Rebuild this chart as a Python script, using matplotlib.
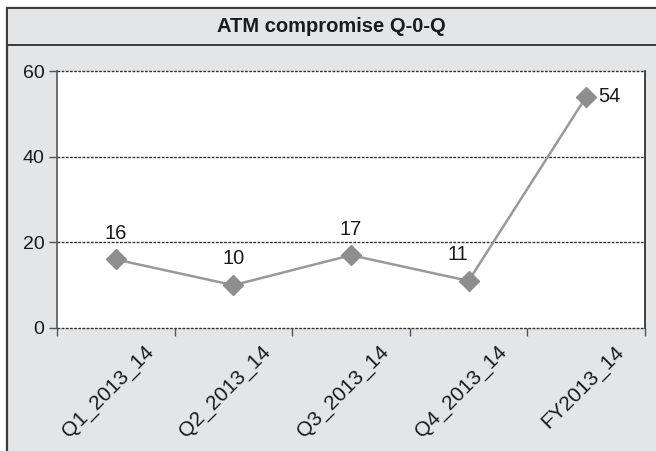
import matplotlib
matplotlib.use("Agg")
import matplotlib.pyplot as plt
from matplotlib.patches import Rectangle
from matplotlib.transforms import ScaledTranslation

plt.rcParams['font.family'] = ['Liberation Sans', 'DejaVu Sans']

categories = ["Q1_2013_14", "Q2_2013_14", "Q3_2013_14", "Q4_2013_14", "FY2013_14"]
values = [16, 10, 17, 11, 54]
y_ticks = [0, 20, 40, 60]
title = "ATM compromise Q-0-Q"

W, H = 656, 451
fig = plt.figure(figsize=(W / 100, H / 100), dpi=100)
bg = "#e4e5e7"
fig.patch.set_facecolor("white")

# outer chart frame and title band
fig.patches.append(Rectangle((7 / W, -0.01), 1, 1.01 - 8 / H, transform=fig.transFigure,
                             facecolor=bg, edgecolor="#3a3a3a", linewidth=1.6, zorder=-2))
fig.patches.append(Rectangle((7 / W, 1 - 45 / H), 1, 37 / H, transform=fig.transFigure,
                             facecolor=bg, edgecolor="#3a3a3a", linewidth=1.4, zorder=-1))
fig.text((7 + W) / 2 / W, 1 - 27 / H, title, ha="center", va="center",
         fontsize=14.5, fontweight="bold", color="#1a1a1a")

ax = fig.add_axes([57 / W, 1 - 328 / H, (645 - 57) / W, (328 - 71) / H])
ax.set_facecolor("white")
x = list(range(len(categories)))
ax.plot(x, values, color="#999999", linewidth=1.8, marker="D", markersize=10,
        markerfacecolor="#8e8e8e", markeredgecolor="#8e8e8e", zorder=3)

ax.set_xlim(-0.5, len(categories) - 0.5)
ax.set_ylim(0, 60)
ax.set_yticks(y_ticks)
ax.set_yticklabels([str(v) for v in y_ticks], fontsize=14, color="#1a1a1a")
for v in y_ticks:
    ax.axhline(v, color="#333333", linewidth=1.0, linestyle=(0, (2, 1)),
               zorder=1, clip_on=False)

ax.set_xticks(x)
ax.set_xticklabels(categories, rotation=45, ha="right", va="top",
                   rotation_mode="anchor", fontsize=15, color="#1a1a1a")
ax.tick_params(axis="x", which="major", length=0, pad=10)
shift = ScaledTranslation(28 / 100, 0, fig.dpi_scale_trans)
for lbl in ax.get_xticklabels():
    lbl.set_transform(lbl.get_transform() + shift)
ax.set_xticks([i - 0.5 for i in range(len(categories) + 1)], minor=True)
ax.tick_params(axis="x", which="minor", length=6, width=1, color="#555555", direction="out")
ax.tick_params(axis="y", length=6, width=1, color="#555555", pad=3)

for s in ["top", "bottom"]:
    ax.spines[s].set_visible(False)
ax.spines["left"].set_color("#555555")
ax.spines["left"].set_linewidth(1.2)
ax.spines["right"].set_color("#222222")
ax.spines["right"].set_linewidth(1.2)

# value labels
offsets = {0: (0, 12, "center", "bottom"), 1: (0, 12, "center", "bottom"),
           2: (0, 12, "center", "bottom"), 3: (-8, 12, "center", "bottom"),
           4: (9, 0, "left", "center")}
for i, v in enumerate(values):
    dx, dy, ha, va = offsets[i]
    ax.annotate(str(v), (i, v), xytext=(dx, dy), textcoords="offset points",
                ha=ha, va=va, fontsize=14.5, color="#1a1a1a")

fig.savefig("out.png", dpi=100, facecolor=fig.get_facecolor())
